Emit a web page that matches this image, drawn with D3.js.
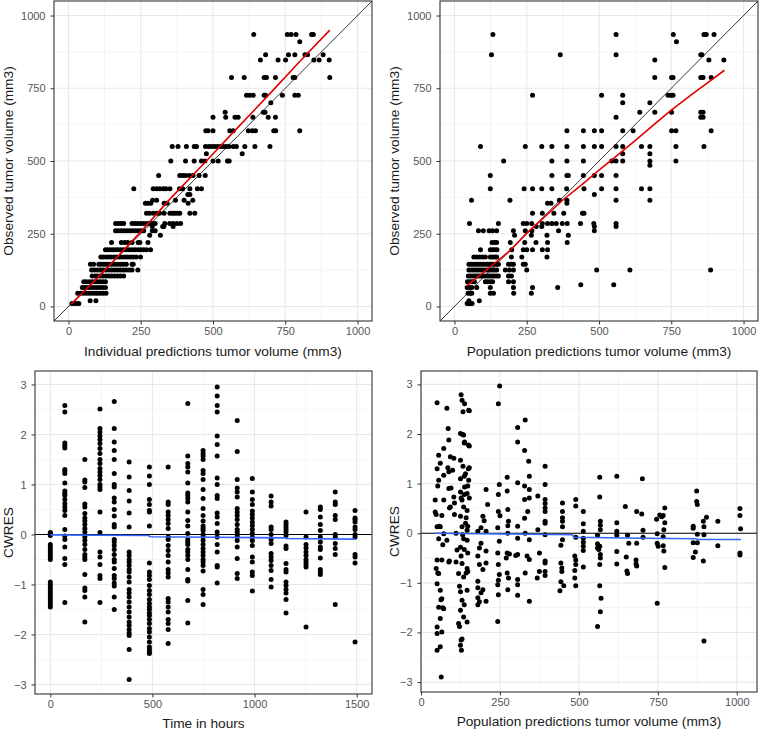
<!DOCTYPE html>
<html>
<head>
<meta charset="utf-8">
<script src="https://cdn.jsdelivr.net/npm/d3@7"></script>
<style>
  body { margin: 0; background: #fff; }
  svg text { font-family: "Liberation Sans", Arial, sans-serif; }
</style>
</head>
<body>
<div id="chart"></div>
<script>
// ---- data ----

// top left: observed level -> individual predictions at that level
const ipredRows = [
  [935, [641, 757, 770, 787, 841, 847]],
  [910, [800]],
  [865, [682, 761, 783, 818, 827, 881]],
  [847, [664, 725, 751, 849, 867, 902]],
  [787, [564, 608, 677, 685, 716, 777, 783, 904]],
  [726, [616, 627, 639, 677, 682, 740, 783, 795]],
  [700, [700]],
  [668, [542, 674, 680]],
  [650, [500, 544, 576, 587, 638, 691, 716]],
  [604, [475, 483, 500, 558, 570, 622, 636, 647, 710, 717, 800]],
  [550, [359, 379, 408, 435, 443, 474, 485, 495, 505, 515, 525, 535, 545, 555, 570, 581, 610, 645, 697]],
  [525, [477, 601]],
  [500, [354, 405, 435, 460, 472, 500, 518, 550, 556]],
  [450, [312, 385, 395, 405, 418, 431, 452, 473]],
  [405, [226, 293, 305, 316, 328, 337, 351, 384, 395, 420, 446, 460]],
  [385, [413, 420]],
  [365, [291, 305, 370, 400, 430]],
  [355, [266, 275, 285, 331, 341, 414]],
  [320, [270, 280, 293, 305, 315, 331, 351, 360, 368, 377, 385, 420, 437]],
  [285, [163, 172, 182, 191, 220, 230, 240, 250, 260, 270, 280, 290, 300, 333, 350, 362, 375, 388]],
  [275, [290, 326, 330, 362]],
  [260, [163, 172, 182, 192, 202, 212, 222, 232, 241, 250, 260, 290, 300]],
  [245, [281, 318]],
  [220, [149, 183, 195, 205, 220, 241, 247, 275]],
  [195, [128, 136, 145, 154, 163, 172, 181, 190, 200, 210, 220, 230, 240, 250, 260, 270, 284]],
  [170, [112, 120, 130, 139, 148, 158, 167, 177, 186, 196, 205, 215, 224, 234, 249]],
  [145, [76, 87, 105, 113, 122, 131, 140, 150, 160, 170, 180, 190, 200, 220, 224]],
  [125, [80, 90, 100, 110, 120, 130, 140, 150, 160, 170, 180, 190, 200, 210, 220, 240]],
  [105, [82, 92, 100, 110, 120, 130, 140, 150, 160, 170, 180, 191]],
  [85, [53, 62, 72, 82, 92, 101, 110, 119, 128]],
  [65, [48, 58, 68, 78, 88, 98, 108, 118, 128]],
  [45, [32, 42, 52, 62, 72, 82, 92, 100, 110, 120, 130]],
  [20, [75, 95]],
  [10, [12, 20, 28, 36]]
];

// top right: observed level -> population predictions at that level
const predRows = [
  [935, [133, 559, 757, 863, 871, 898]],
  [910, [768]],
  [865, [128, 366, 559, 852, 856]],
  [847, [693, 880, 932]],
  [787, [693, 751, 756, 852, 860, 888]],
  [726, [270, 509, 582, 739, 748, 756]],
  [700, [582, 676]],
  [668, [641, 693, 751, 852, 860]],
  [650, [559, 852, 860]],
  [604, [389, 446, 484, 509, 582, 618, 751, 766, 888]],
  [550, [90, 245, 302, 337, 389, 446, 484, 509, 559, 582, 647, 676, 766, 863]],
  [525, [582, 676]],
  [500, [170, 337, 389, 446, 544, 559, 582, 676, 766]],
  [485, [676]],
  [450, [124, 337, 389, 394, 446, 484, 509, 559]],
  [405, [124, 241, 270, 302, 337, 388, 448, 509, 559, 647, 676]],
  [385, [484]],
  [365, [59, 192, 363, 389, 559, 676]],
  [355, [322, 334, 389]],
  [320, [270, 304, 344, 378, 443, 448]],
  [285, [52, 152, 238, 250, 267, 304, 322, 337, 352, 373, 390, 436, 482, 559]],
  [275, [283, 302, 484, 559]],
  [260, [83, 100, 120, 132, 146, 204, 245, 268, 360, 484]],
  [245, [208, 266, 320, 394]],
  [220, [130, 139, 146, 193, 243, 282, 322, 390]],
  [195, [90, 124, 132, 140, 147, 198, 238, 250, 270, 304, 322]],
  [170, [67, 77, 87, 97, 107, 124, 132, 140, 146, 197, 233, 320]],
  [145, [50, 58, 66, 74, 82, 90, 98, 106, 114, 122, 130, 138, 146, 152, 187, 196, 204, 238, 245]],
  [125, [50, 58, 66, 74, 82, 90, 98, 106, 114, 122, 130, 138, 146, 176, 190, 204, 250, 492, 607, 886]],
  [105, [48, 56, 64, 72, 80, 88, 96, 104, 112, 120, 128, 136, 144, 152, 187, 197]],
  [85, [45, 53, 61, 69, 107, 115, 124, 132, 187, 204]],
  [65, [44, 52, 60, 77, 124, 204, 270, 357]],
  [75, [437, 551]],
  [45, [47, 55, 60, 124, 135, 205, 266]],
  [20, [50, 86]],
  [10, [44, 50, 56, 61]]
];

// bottom left: CWRES grouped by nominal time
const timePoints = [0, 71, 169, 243, 313, 386, 485, 577, 673, 748, 817, 915, 989, 1081, 1154, 1252, 1322, 1395, 1492];
const cwresByTime = [
  [0.04, 0.02, 0.0, -0.02, -0.2, -0.25, -0.3, -0.35, -0.4, -0.45, -0.5, -0.95, -1.0, -1.05, -1.1, -1.15, -1.2, -1.25, -1.3, -1.35, -1.4, -1.45],
  [2.58, 2.45, 1.83, 1.78, 1.73, 1.3, 1.27, 1.22, 1.03, 0.87, 0.82, 0.78, 0.7, 0.62, 0.55, 0.48, 0.38, 0.1, -0.03, -0.1, -0.25, -0.48, -0.6, -1.36],
  [1.5, 1.09, 1.05, 0.94, 0.61, 0.55, 0.42, 0.33, 0.27, 0.2, 0.12, 0.05, -0.05, -0.12, -0.2, -0.3, -0.4, -0.45, -0.5, -0.8, -1.07, -1.12, -1.25, -1.75],
  [2.51, 2.12, 2.05, 1.97, 1.9, 1.82, 1.72, 1.62, 1.5, 1.42, 1.32, 1.25, 1.18, 1.1, 1.0, 0.95, 0.9, 0.45, 0.04, -0.35, -0.45, -0.6, -0.82, -0.88, -1.36],
  [2.66, 2.12, 1.85, 1.68, 1.5, 1.22, 1.0, 0.95, 0.73, 0.65, 0.5, 0.37, 0.2, 0.15, -0.1, -0.15, -0.22, -0.3, -0.4, -0.5, -0.55, -0.68, -0.82, -0.88, -0.97, -1.03, -1.25, -1.5],
  [1.45, 1.15, 0.88, 0.67, 0.43, 0.15, -0.35, -0.42, -0.5, -0.55, -0.62, -0.7, -0.75, -0.85, -0.95, -1.1, -1.17, -1.25, -1.35, -1.45, -1.55, -1.65, -1.75, -1.82, -1.9, -1.97, -2.02, -2.3, -2.9],
  [1.35, 1.17, 1.0, 0.7, 0.6, 0.48, 0.45, 0.17, -0.57, -0.75, -0.82, -0.9, -1.02, -1.12, -1.2, -1.3, -1.38, -1.45, -1.5, -1.57, -1.62, -1.7, -1.78, -1.88, -1.95, -2.05, -2.15, -2.25, -2.3, -2.35, -2.38],
  [1.35, 0.65, 0.6, 0.45, 0.38, 0.3, 0.22, 0.12, -0.05, -0.1, -0.22, -0.32, -0.42, -0.55, -0.7, -0.77, -0.85, -1.28, -1.35, -1.45, -1.55, -1.7, -1.78, -1.9, -2.18],
  [2.62, 1.57, 1.42, 1.35, 1.25, 1.03, 0.83, 0.78, 0.72, 0.65, 0.45, 0.28, 0.17, 0.02, -0.1, -0.15, -0.2, -0.3, -0.35, -0.42, -0.5, -0.7, -0.9, -0.93, -1.32, -1.77],
  [1.68, 1.62, 1.57, 1.5, 1.28, 1.22, 1.1, 0.9, 0.72, 0.52, 0.38, 0.27, 0.17, 0.12, 0.08, 0.0, -0.05, -0.12, -0.2, -0.28, -0.35, -0.42, -0.5, -0.55, -0.62, -0.73, -1.1, -1.2, -1.4],
  [2.95, 2.77, 2.58, 2.45, 1.97, 1.8, 1.57, 1.13, 1.0, 0.78, 0.72, 0.43, 0.35, 0.22, 0.05, -0.05, -0.2, -0.35, -0.62, -0.65, -0.97],
  [2.28, 1.66, 1.1, 0.93, 0.85, 0.75, 0.52, 0.45, 0.38, 0.3, 0.2, 0.1, 0.05, 0.0, -0.05, -0.12, -0.25, -0.48, -0.78, -0.88],
  [1.12, 0.85, 0.7, 0.6, 0.47, 0.4, 0.33, 0.25, 0.18, 0.1, 0.02, -0.05, -0.12, -0.22, -0.45, -0.55, -0.75, -0.82, -1.13],
  [0.77, 0.65, 0.57, 0.15, 0.1, 0.0, -0.1, -0.18, -0.38, -0.45, -0.52, -0.62, -0.72, -0.9, -1.05],
  [0.25, 0.2, 0.15, 0.1, 0.05, -0.02, -0.23, -0.28, -0.58, -0.7, -0.75, -0.95, -1.02, -1.1, -1.17, -1.3, -1.57],
  [0.45, -0.05, -0.2, -0.27, -0.35, -0.42, -0.5, -0.55, -0.6, -0.65, -1.85],
  [0.55, 0.5, 0.35, 0.2, 0.08, -0.05, -0.15, -0.25, -0.3, -0.47, -0.7, -0.75, -0.8],
  [0.85, 0.65, 0.6, 0.38, 0.3, 0.0, -0.05, -0.18, -0.28, -0.4, -1.4],
  [0.48, 0.33, 0.3, 0.25, 0.15, 0.1, 0.0, -0.05, -0.4, -0.45, -0.57, -2.15]
];

// bottom right: [population prediction, CWRES]
const predCwres = [
  [51, 2.63], [82, 2.52], [86, 2.11], [88, 1.88], [72, 1.71], [56, 1.57], [93, 1.54], [104, 1.51], [61, 1.41], [51, 1.3],
  [88, 1.24], [72, 1.17], [100, 1.27], [56, 1.07], [88, 0.9], [45, 0.67], [72, 0.67], [93, 0.53], [104, 0.73], [45, 0.43],
  [66, 0.36], [51, 0.13], [61, 0.13], [56, -0.11], [82, -0.14], [72, -0.01], [51, -0.54], [66, -0.54], [88, -0.58], [48, -0.71],
  [56, -0.81], [114, -0.34], [111, -0.58], [51, -1.02], [61, -1.15], [66, -1.32], [56, -1.49], [72, -1.52], [61, -1.72], [51, -1.89],
  [51, -2.02], [66, -1.99], [61, -2.29], [51, -2.36], [64, -2.9],
  [85, 1.32], [95, 0.91], [106, 0.61], [90, 0.51], [106, 0.38], [111, 0.0], [90, -0.56], [122, -1.07], [53, 0.95], [48, 0.38],
  [69, -0.23], [63, -1.34], [69, -1.5], [53, -0.8], [58, 0.14],
  [127, 2.79], [130, 2.68], [138, 2.61], [133, 2.45], [151, 2.48], [125, 2.01], [135, 1.98], [138, 1.84], [150, 1.78], [125, 1.47],
  [133, 1.35], [150, 1.3], [141, 1.2], [125, 1.1], [151, 1.07], [138, 0.93], [125, 0.83], [146, 0.8], [130, 0.67], [135, 0.53],
  [146, 0.46], [125, 0.34], [141, 0.2], [130, 0.13], [146, 0.06], [135, -0.11], [146, -0.14], [125, -0.28], [130, -0.61], [146, -0.71],
  [119, -0.81], [135, -0.88], [146, -1.15], [125, -1.18], [130, -1.35], [125, -1.55], [135, -1.69], [119, -1.82], [146, -1.79], [130, -2.13],
  [125, -2.26], [128, -2.36], [148, 0.95], [137, 0.78], [127, 0.71], [153, 0.71], [143, 0.31], [148, 0.14], [132, -0.03], [148, -0.4],
  [127, -0.46], [137, -0.33], [143, -0.8], [148, -0.77], [137, -1.44], [122, -1.88], [127, -2.15], [153, 1.32], [137, 1.15], [153, 1.76],
  [137, 1.82], [132, 1.99], [153, 2.47],
  [206, 0.88], [211, 0.58], [196, 0.34], [190, 0.11], [206, 0.04], [180, 0.04], [190, -0.2], [206, -0.36], [180, -0.46], [185, -0.63],
  [206, -0.6], [196, -0.73], [180, -0.97], [196, -1.14], [180, -1.3], [206, -1.37], [180, -1.44], [190, -1.2], [180, -1.1], [185, -1.38],
  [200, 0.25], [185, -0.3],
  [249, 2.97], [245, 2.61], [248, 0.98], [245, 0.78], [245, 0.44], [243, 0.11], [248, -0.16], [243, -0.4], [245, -0.63], [248, -0.83],
  [243, -1.04], [245, -1.24], [243, -1.78], [250, 0.35], [245, -0.95],
  [273, 1.13], [273, 0.85], [275, 0.48], [277, 0.24], [275, 0.0], [273, -0.4], [280, -0.42], [273, -0.8], [277, -0.9], [275, -1.14],
  [275, 0.15], [270, -0.5],
  [306, 2.13], [306, 1.84], [306, 1.02], [306, 0.14], [306, -0.1], [306, -0.43], [306, -0.93], [306, -1.04], [306, -1.25], [300, -0.45],
  [330, 2.28], [328, 1.67], [341, 1.45], [343, 1.15], [328, 0.95], [343, 0.88], [328, 0.68], [338, 0.44], [343, 0.71], [330, 0.0],
  [343, -0.13], [336, -0.46], [343, -0.53], [330, -0.8], [343, -1.37], [328, 0.3],
  [370, 0.75], [393, 1.35], [393, 0.98], [393, 0.68], [393, 0.51], [393, 0.44], [393, 0.24], [370, 0.07], [393, -0.03], [375, -0.4],
  [393, -0.56], [393, -0.77], [368, -0.9], [375, -0.77], [393, -0.85], [393, 0.6], [393, 0.2], [393, -0.6],
  [448, 0.61], [448, 0.44], [448, 0.31], [448, 0.24], [448, 0.13], [448, -0.13], [443, -0.24], [443, -0.6], [446, -0.7], [446, -0.77],
  [443, -0.98], [452, -1.06], [440, -1.16],
  [490, 0.68], [490, 0.55], [490, -0.08], [487, -0.46], [490, -0.54], [490, -0.63], [487, -0.75], [487, -0.9], [490, -1.06], [514, 0.44],
  [514, 0.19], [514, 0.04], [514, -0.1], [514, -0.18], [514, -0.26], [514, -0.35], [514, -0.68],
  [566, 1.13], [566, 0.73], [568, 0.24], [568, 0.16], [568, 0.07], [559, -0.04], [559, -0.21], [566, -0.26], [563, -0.33], [568, -0.43],
  [566, -0.63], [566, -1.06], [570, -1.31], [568, -1.58], [559, -1.88], [568, -0.5], [559, -0.3],
  [620, 1.15], [620, 0.21], [620, 0.04], [620, -0.04], [620, -0.37], [620, -0.62],
  [647, 0.54], [654, -0.04], [658, -0.2], [650, -0.48], [652, -0.76], [654, -0.81],
  [683, 0.44], [699, 0.39], [701, 1.1], [703, 0.06], [703, -0.08], [683, -0.2], [681, -0.54], [681, -0.62], [683, -0.66],
  [746, 0.28], [756, 0.37], [767, 0.36], [772, 0.51], [772, 0.21], [769, 0.07], [748, -0.01], [767, -0.07], [748, -0.2], [767, -0.25],
  [751, -0.26], [769, -0.36], [772, -0.69], [748, -1.41], [762, 0.33],
  [862, 0.14], [862, 0.1], [873, 0.85], [873, 0.64], [875, 0.58], [875, -0.02], [862, -0.19], [875, -0.19], [869, -0.38], [862, -0.49],
  [894, 0.24], [896, 0.13], [904, 0.32], [896, -0.03], [894, -0.56], [896, -2.17],
  [940, 0.24], [940, -0.25],
  [1010, 0.5], [1010, 0.36], [1012, 0.09], [1010, -0.4], [1010, -0.44]
];

// smoothers
const ipredSmooth = [[10, 9], [60, 58], [120, 118], [200, 203], [258, 265], [350, 368], [477, 500], [560, 588], [640, 672], [700, 735], [800, 842], [904, 950]];
const predSmooth = [[42, 71], [80, 101], [125, 137], [190, 190], [250, 252], [310, 306], [375, 366], [440, 418], [500, 469], [560, 517], [625, 570], [690, 625], [750, 675], [820, 728], [880, 772], [934, 812]];
const timeSmooth = [[0, -0.007], [240, -0.015], [480, -0.02], [490, -0.045], [800, -0.055], [1150, -0.067], [1155, -0.08], [1492, -0.093]];
const predCwresSmooth = [[45, 0.0], [250, -0.015], [479, -0.03], [484, -0.08], [700, -0.1], [870, -0.11], [880, -0.125], [1013, -0.125]];

const volTicks = [0, 250, 500, 750, 1000];
const volMinor = [125, 375, 625, 875];
const timeTicks = [0, 500, 1000, 1500];
const timeMinor = [250, 750, 1250];
const cwresTicks = [-3, -2, -1, 0, 1, 2, 3];
const cwresMinor = [-2.5, -1.5, -0.5, 0.5, 1.5, 2.5];

// ---- drawing ----
const svg = d3.select('#chart').append('svg')
  .attr('width', 759)
  .attr('height', 730);

const rowsToPoints = rows => rows.flatMap(([obs, xs]) => xs.map(x => [x, obs]));

function drawPanel(p) {
  const x = d3.scaleLinear().domain(p.xDomain).range([p.left, p.right]);
  const y = d3.scaleLinear().domain(p.yDomain).range([p.bottom, p.top]);
  const g = svg.append('g');

  g.append('rect')
    .attr('x', p.left).attr('y', p.top)
    .attr('width', p.right - p.left).attr('height', p.bottom - p.top)
    .attr('fill', '#fff');

  // grid
  g.selectAll('.vminor').data(p.xMinor).enter().append('line')
    .attr('x1', d => x(d)).attr('x2', d => x(d))
    .attr('y1', p.top).attr('y2', p.bottom)
    .attr('stroke', '#f0f0f0').attr('stroke-width', 0.7);
  g.selectAll('.hminor').data(p.yMinor).enter().append('line')
    .attr('y1', d => y(d)).attr('y2', d => y(d))
    .attr('x1', p.left).attr('x2', p.right)
    .attr('stroke', '#f0f0f0').attr('stroke-width', 0.7);
  g.selectAll('.vmajor').data(p.xTicks).enter().append('line')
    .attr('x1', d => x(d)).attr('x2', d => x(d))
    .attr('y1', p.top).attr('y2', p.bottom)
    .attr('stroke', '#e8e8e8').attr('stroke-width', 1.1);
  g.selectAll('.hmajor').data(p.yTicks).enter().append('line')
    .attr('y1', d => y(d)).attr('y2', d => y(d))
    .attr('x1', p.left).attr('x2', p.right)
    .attr('stroke', '#e8e8e8').attr('stroke-width', 1.1);

  const clipId = 'clip' + p.id;
  svg.append('clipPath').attr('id', clipId).append('rect')
    .attr('x', p.left).attr('y', p.top)
    .attr('width', p.right - p.left).attr('height', p.bottom - p.top);
  const inner = g.append('g').attr('clip-path', `url(#${clipId})`);

  // reference line
  if (p.identity) {
    inner.append('line')
      .attr('x1', x(p.xDomain[0])).attr('y1', y(p.xDomain[0]))
      .attr('x2', x(p.xDomain[1])).attr('y2', y(p.xDomain[1]))
      .attr('stroke', '#000').attr('stroke-width', 0.8);
  }

  inner.selectAll('circle').data(p.points).enter().append('circle')
    .attr('cx', d => x(d[0]))
    .attr('cy', d => y(d[1]))
    .attr('r', 2.5)
    .attr('fill', '#000');

  if (!p.identity) {
    inner.append('line')
      .attr('x1', p.left).attr('x2', p.right)
      .attr('y1', y(0)).attr('y2', y(0))
      .attr('stroke', '#000').attr('stroke-width', 1.1);
  }

  inner.append('path')
    .datum(p.smooth)
    .attr('d', d3.line().x(d => x(d[0])).y(d => y(d[1])))
    .attr('fill', 'none')
    .attr('stroke', p.smoothColor)
    .attr('stroke-width', 1.6);

  g.append('rect')
    .attr('x', p.left).attr('y', p.top)
    .attr('width', p.right - p.left).attr('height', p.bottom - p.top)
    .attr('fill', 'none').attr('stroke', '#333').attr('stroke-width', 1.1);

  // axes
  const xAxis = g.append('g')
    .attr('transform', `translate(0,${p.bottom})`)
    .call(d3.axisBottom(x).tickValues(p.xTicks).tickSize(3.5).tickPadding(3).tickFormat(d3.format('d')));
  const yAxis = g.append('g')
    .attr('transform', `translate(${p.left},0)`)
    .call(d3.axisLeft(y).tickValues(p.yTicks).tickSize(3.5).tickPadding(5).tickFormat(d3.format('d')));
  [xAxis, yAxis].forEach(a => {
    a.select('.domain').remove();
    a.selectAll('.tick line').attr('stroke', '#333');
    a.selectAll('.tick text')
      .attr('fill', '#555')
      .style('font-size', '11px')
      .style('font-family', '"Liberation Sans", Arial, sans-serif');
  });

  g.append('text')
    .attr('x', (p.left + p.right) / 2)
    .attr('y', p.xTitleY)
    .attr('text-anchor', 'middle')
    .attr('fill', '#1a1a1a')
    .style('font-size', '13.7px')
    .text(p.xTitle);

  g.append('text')
    .attr('transform', `translate(${p.yTitleX},${(p.top + p.bottom) / 2}) rotate(-90)`)
    .attr('text-anchor', 'middle')
    .attr('fill', '#1a1a1a')
    .style('font-size', '13.7px')
    .text(p.yTitle);
}

drawPanel({
  id: 1, left: 54, right: 372, top: 1, bottom: 321,
  xDomain: [-50, 1050], yDomain: [-50, 1050],
  xTicks: volTicks, xMinor: volMinor, yTicks: volTicks, yMinor: volMinor,
  points: rowsToPoints(ipredRows), smooth: ipredSmooth, smoothColor: '#e00000', identity: true,
  xTitle: 'Individual predictions tumor volume (mm3)', xTitleY: 356,
  yTitle: 'Observed tumor volume (mm3)', yTitleX: 12.5
});

drawPanel({
  id: 2, left: 440, right: 758, top: 1, bottom: 321,
  xDomain: [-50, 1050], yDomain: [-50, 1050],
  xTicks: volTicks, xMinor: volMinor, yTicks: volTicks, yMinor: volMinor,
  points: rowsToPoints(predRows), smooth: predSmooth, smoothColor: '#e00000', identity: true,
  xTitle: 'Population predictions tumor volume (mm3)', xTitleY: 356,
  yTitle: 'Observed tumor volume (mm3)', yTitleX: 398.5
});

drawPanel({
  id: 3, left: 35, right: 372, top: 371, bottom: 694,
  xDomain: [-75, 1575], yDomain: [-3.19, 3.27],
  xTicks: timeTicks, xMinor: timeMinor, yTicks: cwresTicks, yMinor: cwresMinor,
  points: timePoints.flatMap((t, i) => cwresByTime[i].map(v => [t, v])),
  smooth: timeSmooth, smoothColor: '#3366ff', identity: false,
  xTitle: 'Time in hours', xTitleY: 728,
  yTitle: 'CWRES', yTitleX: 12.5
});

drawPanel({
  id: 4, left: 421, right: 757, top: 371, bottom: 692,
  xDomain: [0, 1064], yDomain: [-3.2, 3.27],
  xTicks: volTicks, xMinor: volMinor, yTicks: cwresTicks, yMinor: cwresMinor,
  points: predCwres, smooth: predCwresSmooth, smoothColor: '#3366ff', identity: false,
  xTitle: 'Population predictions tumor volume (mm3)', xTitleY: 726,
  yTitle: 'CWRES', yTitleX: 398.5
});
</script>
</body>
</html>
